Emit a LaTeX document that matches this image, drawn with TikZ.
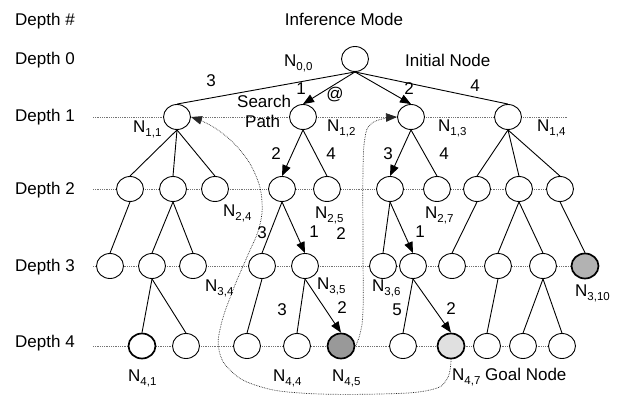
\documentclass[tikz,border=0pt]{standalone}
\usepackage{fontspec}
\setmainfont{Liberation Sans}
\usetikzlibrary{shapes.geometric,arrows.meta,backgrounds}
\newcommand\Nlab[1]{N\raisebox{-4pt}{\fontsize{11.5}{12}\selectfont #1}}
\begin{document}
\begin{tikzpicture}[x=1pt,y=-1pt,
  font=\fontsize{17}{20}\selectfont,
  nd/.style={ellipse,draw,fill=white,line width=0.9pt,minimum width=27pt,minimum height=25pt,inner sep=0pt},
  heavy/.style={line width=1.7pt},
  txt/.style={inner sep=0pt},
  lab/.style={inner sep=0pt,anchor=base west},
  num/.style={inner sep=0pt,anchor=base},
  tree/.style={line width=0.9pt},
  arr/.style={tree,-{Triangle[length=11pt,width=8.5pt]}},
  lvl/.style={black!55,densely dotted,line width=0.8pt},
  sp/.style={black!85,densely dotted,line width=0.7pt,-{Triangle[length=11pt,width=8.5pt]}},
]
\useasboundingbox (0,0) rectangle (622,398);

% ---- nodes ----
\node[nd] (r) at (355,59) {};
\foreach \n/\x in {1/177,2/303,3/411,4/508}
  \node[nd] (a\n) at (\x,117) {};
\foreach \n/\x in {1/130,2/173,3/215,4/282,5/327,6/390,7/437,8/477,9/519,10/560}
  \node[nd] (b\n) at (\x,189) {};
\foreach \n/\x in {1/110,2/152,3/193,4/262,5/305,6/383,7/413,8/452,9/498,10/543}
  \node[nd] (c\n) at (\x,266) {};
\node[nd,heavy,fill=black!30] (c11) at (585,266) {};
\node[nd,heavy] (d1) at (142,346) {};
\foreach \n/\x in {2/186,3/247,4/297,6/403,8/487,9/523,10/562}
  \node[nd] (d\n) at (\x,346) {};
\node[nd,heavy,fill=black!40] (d5) at (341,346) {};
\node[nd,heavy,fill=black!12] (d7) at (451,346) {};

% ---- level guide lines ----
\coordinate (L1a) at (93,117); \coordinate (L1b) at (567,117);
\coordinate (L2a) at (93,189);
\coordinate (L3a) at (93,266);
\coordinate (L4a) at (93,346);
\begin{scope}[on background layer]
  \draw[lvl] (L1a) -- (L1b);
  \draw[lvl] (L2a) -- (b10);
  \draw[lvl] (L3a) -- (c11);
  \draw[lvl] (L4a) -- (d10);
\end{scope}

% ---- tree edges ----
\foreach \p/\c in {r/a1,r/a4,a1/b1,a1/b2,a1/b3,a2/b5,a3/b7,a4/b8,a4/b9,a4/b10,
  b1/c1,b2/c2,b2/c3,b4/c4,b6/c6,b8/c8,b9/c9,b9/c10,b10/c11,
  c2/d1,c2/d2,c4/d3,c5/d4,c7/d6,c9/d8,c10/d9,c10/d10}
  \draw[tree] (\p.south) -- (\c.north);
\foreach \p/\c in {r/a2,r/a3,a2/b4,a3/b6,b4/c5,b6/c7,c5/d5,c7/d7}
  \draw[arr] (\p.south) -- (\c.north);

% ---- search path ----
\draw[sp] plot[smooth,tension=0.7] coordinates {(d7.south) (447,379) (430,390) (380,394)
  (300,393) (255,385) (230,370) (219,350) (221,325) (233,290) (247,257) (259,228)
  (262,202) (256,176) (240,150) (215,128) (a1.east)};
\draw[sp] plot[smooth,tension=0.7] coordinates {(d5.east) (360,334) (363,310) (363,250)
  (363,170) (365,138) (370,125) (382,119) (a3.west)};

% ---- texts ----
\node[lab] (hd) at (15,26) {Depth \#};
\node[num] (im) at (344,26) {Inference Mode};
\node[lab] (dep0) at (15,65) {Depth 0};
\node[lab] (dep1) at (15,122) {Depth 1};
\node[lab] (dep2) at (15,195) {Depth 2};
\node[lab] (dep3) at (15,272) {Depth 3};
\node[lab] (dep4) at (15,348) {Depth 4};
\node[lab] (init) at (405,67) {Initial Node};
\node[lab] (srch) at (237,108) {Search};
\node[lab] (path) at (245,128) {Path};

\node[lab] (n00) at (284,67) {\Nlab{0,0}};
\node[lab] (n11) at (133,133) {\Nlab{1,1}};
\node[lab] (n12) at (327,132) {\Nlab{1,2}};
\node[lab] (n13) at (438,132) {\Nlab{1,3}};
\node[lab] (n14) at (537,132) {\Nlab{1,4}};
\node[lab] (n24) at (223,217) {\Nlab{2,4}};
\node[lab] (n25) at (315,219) {\Nlab{2,5}};
\node[lab] (n27) at (425,219) {\Nlab{2,7}};
\node[lab] (n34) at (205,292) {\Nlab{3,4}};
\node[lab] (n35) at (317,290) {\Nlab{3,5}};
\node[lab] (n36) at (372,292) {\Nlab{3,6}};
\node[lab] (n310) at (575,297) {\Nlab{3,10}};
\node[lab] (n41) at (128,382) {\Nlab{4,1}};
\node[lab] (n44) at (273,382) {\Nlab{4,4}};
\node[lab] (n45) at (332,382) {\Nlab{4,5}};
\node[lab] (n47) at (452,381) {\Nlab{4,7} Goal Node};

% edge weights
\node[num] (w1) at (211,87) {3};
\node[num] (w2) at (301,95) {1};
\node[num] (w3) at (335,100) {@};
\node[num] (w4) at (409,95) {2};
\node[num] (w5) at (475,92) {4};
\node[num] (w6) at (276,160) {2};
\node[num] (w7) at (331,160) {4};
\node[num] (w8) at (388,160) {3};
\node[num] (w9) at (444,160) {4};
\node[num] (w10) at (262,239) {3};
\node[num] (w11) at (314,238) {1};
\node[num] (w12) at (341,240) {2};
\node[num] (w13) at (420,238) {1};
\node[num] (w14) at (282,316) {3};
\node[num] (w15) at (342,314) {2};
\node[num] (w16) at (397,316) {5};
\node[num] (w17) at (451,315) {2};
\end{tikzpicture}
\end{document}
